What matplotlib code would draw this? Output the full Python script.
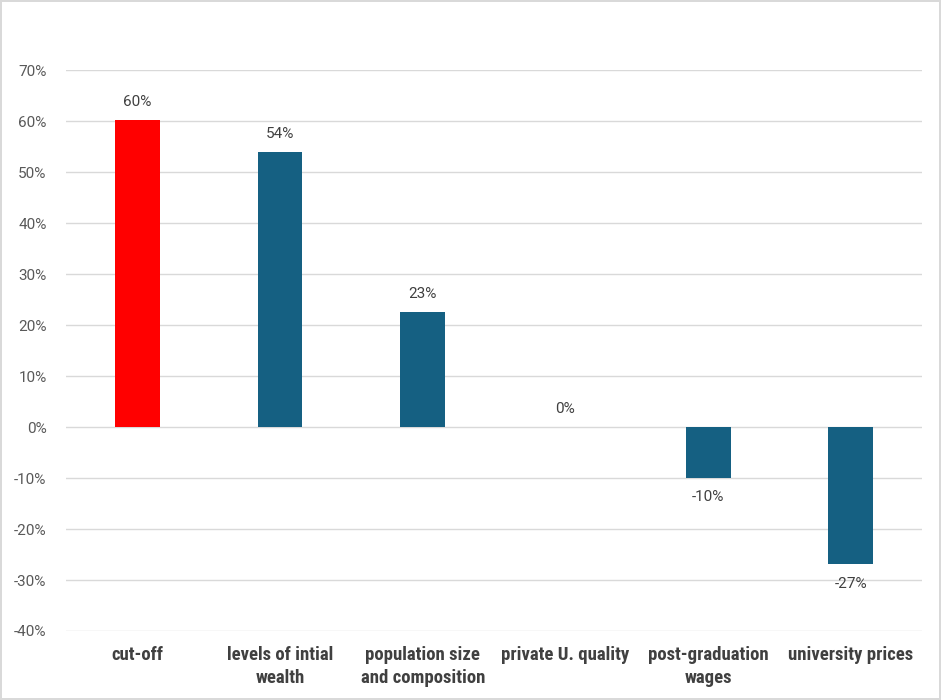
import matplotlib
matplotlib.use("Agg")
import matplotlib.pyplot as plt
from matplotlib.ticker import PercentFormatter, MultipleLocator
from matplotlib.font_manager import findfont, FontProperties

plt.rcParams["axes.unicode_minus"] = False

categories = ["cut-off", "levels of intial\nwealth", "population size\nand composition",
              "private U. quality", "post-graduation\nwages", "university prices"]
values = [0.603, 0.539, 0.226, 0.0, -0.099, -0.269]
colors = ["#FF0000", "#156082", "#156082", "#156082", "#156082", "#156082"]

label_font = "DejaVu Sans"
for cand in ["Liberation Sans Narrow", "Roboto Condensed", "Roboto"]:
    try:
        findfont(FontProperties(family=cand), fallback_to_default=False)
        label_font = cand
        break
    except Exception:
        pass

fig = plt.figure(figsize=(9.41, 7.0), dpi=100)
fig.patch.set_edgecolor("#D9D9D9")
fig.patch.set_linewidth(1.5)
ax = fig.add_axes([0.0701, 0.0986, 0.9099, 0.801])

x = list(range(len(categories)))
ax.bar(x, values, width=0.315, color=colors, zorder=3)

for xi, v in zip(x, values):
    if v >= 0:
        ax.annotate(f"{round(v * 100):.0f}%", (xi, v), xytext=(0, 8), textcoords="offset points",
                    ha="center", va="bottom", fontsize=11, color="#404040", family="Roboto")
    else:
        ax.annotate(f"{round(v * 100):.0f}%", (xi, v), xytext=(0, -9), textcoords="offset points",
                    ha="center", va="top", fontsize=11, color="#404040", family="Roboto")

ax.set_ylim(-0.4, 0.7)
ax.set_xlim(-0.5, len(categories) - 0.5)
ax.yaxis.set_major_locator(MultipleLocator(0.1))
ax.yaxis.set_major_formatter(PercentFormatter(1.0, decimals=0))
ax.grid(axis="y", color="#D9D9D9", linewidth=1.0, zorder=0)
for s in ax.spines.values():
    s.set_visible(False)
ax.tick_params(axis="y", length=0, pad=14, labelsize=11, labelcolor="#595959")
for t in ax.get_yticklabels():
    t.set_family("Roboto")
ax.tick_params(axis="x", length=0, pad=11)
ax.set_xticks(x)
ax.set_xticklabels(categories, fontsize=13.5, fontweight="bold", color="#404040",
                   family=label_font, linespacing=1.32, va="top")

fig.savefig("out.png", dpi=100, edgecolor=fig.get_edgecolor())
